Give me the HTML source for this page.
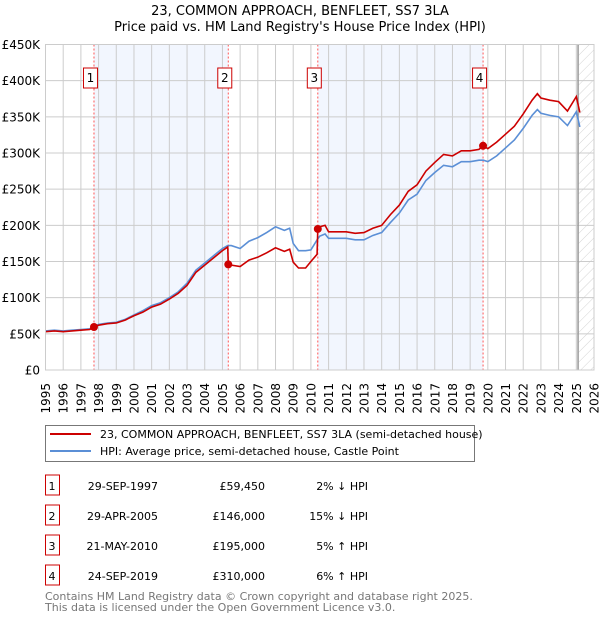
<!DOCTYPE html>
<html><head><meta charset="utf-8"><style>
body{margin:0;background:#fff;font-family:"DejaVu Sans","Liberation Sans",sans-serif;}
svg text{font-family:"DejaVu Sans","Liberation Sans",sans-serif;}
</style></head><body>
<svg id="chart" width="600" height="620" viewBox="0 0 600 620">
<defs><pattern id="hatch" width="7" height="7" patternUnits="userSpaceOnUse" patternTransform="rotate(45)"><line x1="0" y1="0" x2="0" y2="7" stroke="#d4d4d4" stroke-width="1"/></pattern></defs>
<text x="300" y="15" text-anchor="middle" font-size="13" fill="#000">23, COMMON APPROACH, BENFLEET, SS7 3LA</text>
<text x="300" y="31" text-anchor="middle" font-size="13" fill="#000">Price paid vs. HM Land Registry's House Price Index (HPI)</text>
<g id="plot"></g>
<g>
<rect x="45.5" y="425.5" width="429" height="36" fill="#fff" stroke="#777"/>
<line x1="50" y1="434" x2="91" y2="434" stroke="#cc0000" stroke-width="2"/>
<text x="100" y="438" font-size="11">23, COMMON APPROACH, BENFLEET, SS7 3LA (semi-detached house)</text>
<line x1="50" y1="451" x2="91" y2="451" stroke="#5b8fd6" stroke-width="2"/>
<text x="100" y="455" font-size="11">HPI: Average price, semi-detached house, Castle Point</text>
</g>
<g id="table"></g>
<text x="45" y="600" font-size="11" fill="#777">Contains HM Land Registry data © Crown copyright and database right 2025.</text>
<text x="45" y="611" font-size="11" fill="#777">This data is licensed under the Open Government Licence v3.0.</text>
</svg>
<script>
const years=[1995,1996,1997,1998,1999,2000,2001,2002,2003,2004,2005,2006,2007,2008,2009,2010,2011,2012,2013,2014,2015,2016,2017,2018,2019,2020,2021,2022,2023,2024,2025,2026];
const yTicks=[0,50,100,150,200,250,300,350,400,450];
const hpiT=[1995,1995.5,1996,1996.5,1997,1997.5,1997.75,1998,1998.5,1999,1999.5,2000,2000.5,2001,2001.5,2002,2002.5,2003,2003.5,2004,2004.5,2005,2005.3,2005.5,2006,2006.5,2007,2007.5,2008,2008.5,2008.8,2009,2009.3,2009.7,2010,2010.35,2010.5,2010.8,2011,2011.5,2012,2012.5,2013,2013.5,2014,2014.5,2015,2015.5,2016,2016.5,2017,2017.5,2018,2018.5,2019,2019.5,2019.75,2020,2020.5,2021,2021.5,2022,2022.5,2022.8,2023,2023.5,2024,2024.5,2025,2025.2];
const hpiV=[54,55,54,55,56,57,60,63,65,66,70,76,82,89,93,100,108,120,138,148,158,168,172,172,168,178,183,190,198,193,196,175,165,165,166,180,185,188,182,182,182,180,180,186,190,204,217,235,243,262,273,283,281,288,288,290,290,288,296,307,318,334,352,360,355,352,350,338,357,336];
const priceT=[1995,1995.5,1996,1996.5,1997,1997.5,1997.75,1998,1998.5,1999,1999.5,2000,2000.5,2001,2001.5,2002,2002.5,2003,2003.5,2004,2004.5,2005,2005.3,2005.33,2005.5,2006,2006.5,2007,2007.5,2008,2008.5,2008.8,2009,2009.3,2009.7,2010,2010.35,2010.39,2010.5,2010.8,2011,2011.5,2012,2012.5,2013,2013.5,2014,2014.5,2015,2015.5,2016,2016.5,2017,2017.5,2018,2018.5,2019,2019.5,2019.73,2020,2020.5,2021,2021.5,2022,2022.5,2022.8,2023,2023.5,2024,2024.5,2025,2025.2];
const priceV=[53,54,53,54,55,56,59.45,62,64,65,69,75,80,87,91,98,106,117,135,145,155,165,170,146,145,143,152,156,162,169,164,167,149,141,141,150,160,195,198,200,191,191,191,189,190,196,200,215,228,247,256,275,287,298,296,303,303,305,310,306,315,326,337,354,373,382,376,373,371,358,378,356];
const saleT=[1997.74,2005.33,2010.39,2019.73];
const saleV=[59.45,146,195,310];
const saleDates=["29-SEP-1997","29-APR-2005","21-MAY-2010","24-SEP-2019"];
const salePrices=["£59,450","£146,000","£195,000","£310,000"];
const saleDiffs=["2% ↓ HPI","15% ↓ HPI","5% ↑ HPI","6% ↑ HPI"];

const X0=45.5,X1=594,Y0=370,Y1=44.5;
const xs=t=>X0+(t-1995)*(X1-X0)/31;
const ys=v=>Y0-v*(Y0-Y1)/450;
const NS="http://www.w3.org/2000/svg";
const plot=document.getElementById('plot');
function mk(tag,attrs,parent){const e=document.createElementNS(NS,tag);for(const k in attrs)e.setAttribute(k,attrs[k]);(parent||plot).appendChild(e);return e;}
for(let i=0;i<saleT.length;i+=2){const r=mk('rect',{x:xs(saleT[i]),y:Y1,width:xs(saleT[i+1])-xs(saleT[i]),height:Y0-Y1,fill:'#f2f6fe'});

}
const h=mk('rect',{x:xs(2025.1),y:Y1,width:X1-xs(2025.1),height:Y0-Y1,fill:'url(#hatch)'});


years.forEach(y=>{const l=mk('line',{x1:xs(y),x2:xs(y),y1:Y1,y2:Y0,stroke:'#ccc','stroke-width':1});


const t=mk('text',{x:0,y:0,'font-size':12,'text-anchor':'end',transform:`translate(${xs(y)+4.5},${Y0+13}) rotate(-90)`});
t.textContent=y;

});
yTicks.forEach(v=>{const l=mk('line',{x1:X0,x2:X1,y1:ys(v),y2:ys(v),stroke:'#ccc','stroke-width':1});


const t=mk('text',{x:40,y:ys(v)+4.5,'font-size':12,'text-anchor':'end'});
t.textContent=v===0?'£0':'£'+v+'K';

});
const vl=mk('line',{x1:xs(2025.1),x2:xs(2025.1),y1:Y1,y2:Y0,stroke:'#999','stroke-width':1.5});


saleT.forEach((s,i)=>{const l=mk('line',{x1:xs(s),x2:xs(s),y1:Y1,y2:Y0,stroke:'#ff5555','stroke-width':1,'stroke-dasharray':'2,2'});


const b=mk('rect',{x:xs(s)-10.5,y:68,width:14,height:20,fill:'#fff',stroke:'#cc0000'});


const t=mk('text',{x:xs(s)-3.5,y:82,'font-size':12,'text-anchor':'middle'});t.textContent=i+1;

});
const hp=mk('polyline',{points:hpiT.map((t,i)=>xs(t)+','+ys(hpiV[i])).join(' '),fill:'none',stroke:'#5b8fd6','stroke-width':1.6});


const pp=mk('polyline',{points:priceT.map((t,i)=>xs(t)+','+ys(priceV[i])).join(' '),fill:'none',stroke:'#cc0000','stroke-width':1.6});


saleT.forEach((s,i)=>{const c=mk('circle',{cx:xs(s),cy:ys(saleV[i]),r:4,fill:'#cc0000'});

});
mk('rect',{x:X0,y:Y1,width:X1-X0,height:Y0-Y1,fill:'none',stroke:'#ccc'});
const tb=document.getElementById('table');
saleT.forEach((s,i)=>{const y=486+i*30;
const b=mk('rect',{x:45.5,y:y-11,width:14,height:20,fill:'#fff',stroke:'#cc0000'},tb);


const cells=[[52,'middle',i+1],[158,'end',saleDates[i]],[265,'end',salePrices[i]],[368,'end',saleDiffs[i]]];
cells.forEach(c=>{const t=mk('text',{x:c[0],y:y+4,'font-size':11,'text-anchor':c[1]},tb);t.textContent=c[2];

});});
</script>
</body></html>
